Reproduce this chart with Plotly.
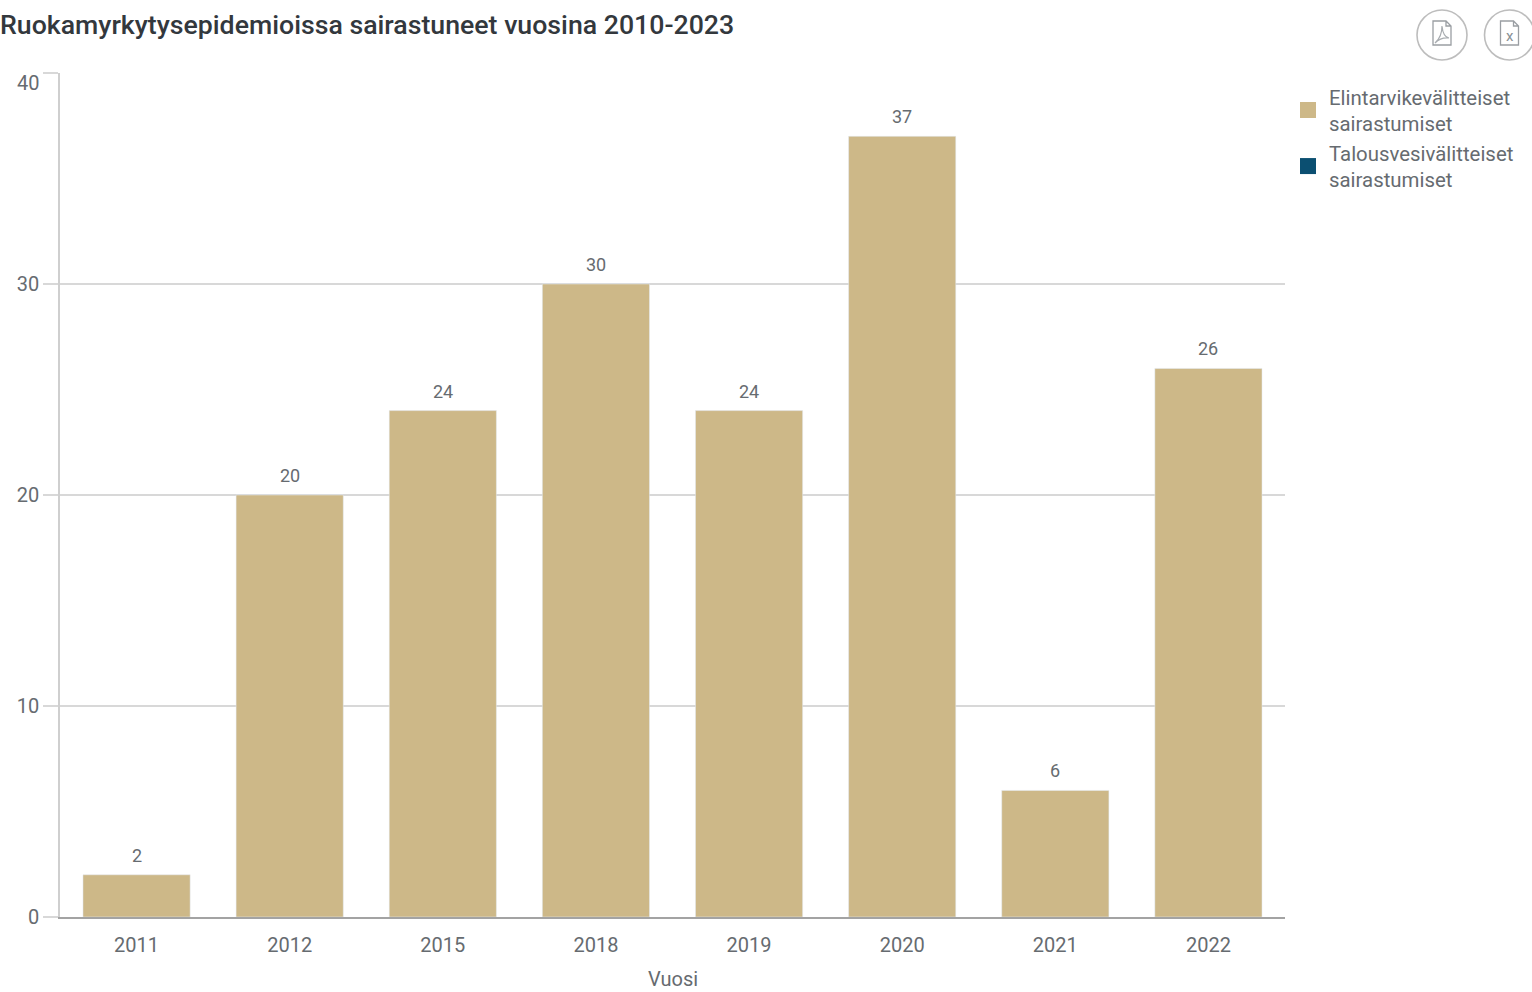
import plotly.graph_objects as go

years = ["2011", "2012", "2015", "2018", "2019", "2020", "2021", "2022"]
food_cases = [2, 20, 24, 30, 24, 37, 6, 26]
water_cases = [None, None, None, None, None, None, None, None]
y_ticks = [0, 10, 20, 30, 40]

TITLE = "Ruokamyrkytysepidemioissa sairastuneet vuosina 2010-2023"
X_TITLE = "Vuosi"
FOOD_NAME = "Elintarvikevälitteiset<br>sairastumiset"
WATER_NAME = "Talousvesivälitteiset<br>sairastumiset"
FOOD_COLOR = "#CDB888"
WATER_COLOR = "#0B4F71"
TEXT = "#666B70"
FONT = "Roboto"

W, H = 1532, 992
L, R, T, B = 60, 247, 73, 75


def fx(px):
    """Page pixel to x paper fraction of the plot area."""
    return (px - L) / (W - L - R)


def fy(py):
    """Page pixel to y paper fraction of the plot area."""
    return (H - B - py) / (H - T - B)


fig = go.Figure()
fig.add_bar(x=years, y=food_cases, marker_color=FOOD_COLOR, showlegend=False,
            hoverinfo="x+y", name=FOOD_NAME)
fig.add_bar(x=years, y=water_cases, marker_color=WATER_COLOR, showlegend=False,
            hoverinfo="x+y", name=WATER_NAME)

# Square legend keys for both series
for name, color in ((FOOD_NAME, FOOD_COLOR), (WATER_NAME, WATER_COLOR)):
    fig.add_scatter(x=[years[0]], y=[None], mode="markers", name=name,
                    marker=dict(symbol="square", size=17, color=color))

# Year labels look numeric, so annotations address the category axis by index
annotations = [
    dict(xref="x", yref="y", x=i, y=v, text=str(v), showarrow=False, xanchor="center",
         yanchor="bottom", yshift=7, font=dict(family=FONT, size=18, color=TEXT))
    for i, v in enumerate(food_cases)
]
# Top tick label sits just below its gridline
annotations.append(dict(xref="paper", yref="y", x=0, xanchor="right", xshift=-19, y=y_ticks[-1],
                        yshift=-10, text=str(y_ticks[-1]), showarrow=False,
                        font=dict(family=FONT, size=20, color=TEXT)))
annotations.append(dict(xref="paper", yref="paper", x=fx(0), xshift=-2, y=fy(25),
                        xanchor="left", yanchor="middle", text=TITLE, showarrow=False,
                        font=dict(family=FONT, size=26.7, color="#33383D", weight=500)))
annotations.append(dict(xref="paper", yref="paper", x=fx(673), y=fy(979), xanchor="center", yanchor="middle",
                        text=X_TITLE, showarrow=False, font=dict(family=FONT, size=20, color=TEXT)))
annotations.append(dict(xref="paper", yref="paper", x=fx(1509.5), y=fy(36), xanchor="center", yanchor="middle",
                        text="x", showarrow=False, font=dict(family=FONT, size=15, color="#8A8F94")))


def doc_glyph(cx, cy):
    """Outline of a page with a folded corner, centred on (cx, cy) in pixels."""
    pts = [(-9, -12), (4, -12), (9, -7), (9, 12), (-9, 12)]
    d = "M" + " L".join(f"{fx(cx + a)},{fy(cy + b)}" for a, b in pts) + " Z"
    d += f" M{fx(cx + 4)},{fy(cy - 12)} L{fx(cx + 4)},{fy(cy - 7)} L{fx(cx + 9)},{fy(cy - 7)}"
    return d


shapes = []
for cx in (1442, 1509.5):
    shapes.append(dict(type="circle", xref="paper", yref="paper",
                       x0=fx(cx - 25), x1=fx(cx + 25), y0=fy(60), y1=fy(10),
                       line=dict(color="#BDBDBD", width=1.6)))
    shapes.append(dict(type="path", xref="paper", yref="paper", path=doc_glyph(cx, 33),
                       line=dict(color="#9A9EA3", width=1.3)))
# Stylised acrobat mark on the first icon
shapes.append(dict(type="path", xref="paper", yref="paper",
                   path=f"M{fx(1435)},{fy(43)} Q{fx(1442)},{fy(37)} {fx(1442)},{fy(26)} "
                        f"Q{fx(1443)},{fy(37)} {fx(1449)},{fy(38)} Q{fx(1441)},{fy(37)} {fx(1435)},{fy(43)}",
                   line=dict(color="#A8ACB0", width=1.2)))

fig.update_layout(
    width=W, height=H, autosize=False,
    margin=dict(l=L, r=R, t=T, b=B),
    plot_bgcolor="white", paper_bgcolor="white",
    bargap=0.3, barmode="overlay",
    font=dict(family=FONT, color=TEXT),
    xaxis=dict(type="category", categoryorder="array", categoryarray=years,
               range=[-0.5, len(years) - 0.5],
               tickfont=dict(size=20, color=TEXT), ticks="", showgrid=False,
               showline=True, linecolor="#A3A3A3", linewidth=1.5,
               ticklabelstandoff=9),
    yaxis=dict(range=[0, 40], tickmode="array", tickvals=y_ticks,
               ticktext=[str(t) for t in y_ticks[:-1]] + [""],
               tickfont=dict(size=20, color=TEXT), ticks="outside", ticklen=15,
               tickcolor="#D8D8D8", tickwidth=1.5, showgrid=True, gridcolor="#D8D8D8",
               gridwidth=1.5, zeroline=False, showline=True, linecolor="#CFCFCF", linewidth=1.5),
    legend=dict(x=fx(1287), y=fy(77), xanchor="left", yanchor="top", itemwidth=32,
                font=dict(family=FONT, size=20.4, color=TEXT), tracegroupgap=0,
                itemclick=False, itemdoubleclick=False),
    annotations=annotations,
    shapes=shapes,
)

fig.write_html("out.html")
